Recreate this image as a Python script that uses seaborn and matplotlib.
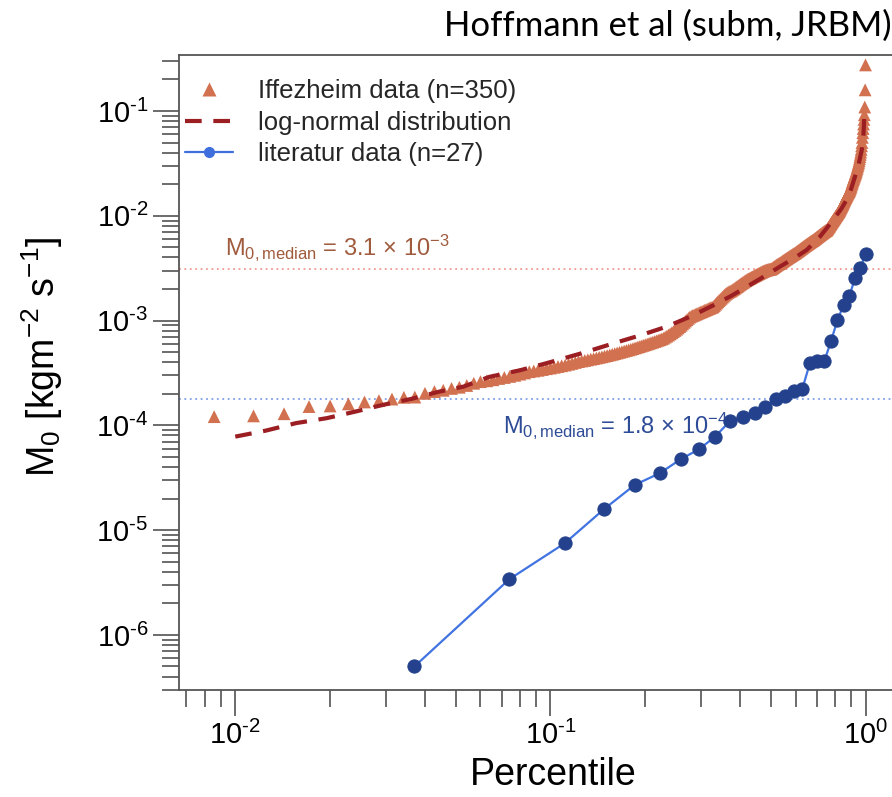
import numpy as np
import pandas as pd
import matplotlib
matplotlib.use("Agg")
import matplotlib.pyplot as plt
import seaborn as sns
from matplotlib.lines import Line2D
from matplotlib.ticker import LogLocator, NullFormatter, FuncFormatter, FixedLocator

# Iffezheim erosion rates M0, sorted ascending, in units of 1e-4 kg m^-2 s^-1
iffezheim_m0_e4 = [
    1.00, 1.15, 1.21, 1.23, 1.29, 1.51, 1.53, 1.60, 1.67, 1.72, 1.78, 1.85, 1.86, 2.02, 2.10,
    2.16, 2.25, 2.31, 2.40, 2.52, 2.61,
    2.66, 2.72, 2.80, 2.86, 2.93, 3.00, 3.08, 3.16, 3.25,
    3.30, 3.35, 3.41, 3.47, 3.52, 3.58, 3.64, 3.70, 3.76, 3.83, 3.90, 3.98, 4.06,
    4.11, 4.16, 4.22, 4.28, 4.33, 4.39, 4.45, 4.51, 4.57, 4.63, 4.70, 4.76, 4.83, 4.90, 4.97,
    5.04, 5.11, 5.18, 5.25,
    5.32, 5.40, 5.48, 5.56, 5.64, 5.72, 5.80, 5.88, 5.96, 6.05, 6.14, 6.22, 6.31, 6.40, 6.49,
    6.58, 6.68, 6.78,
    6.95, 7.10, 7.28, 7.45, 7.64, 7.84, 8.05, 8.26, 8.50, 8.75,
    9.00, 9.30, 9.60, 9.90, 10.2, 10.5, 10.8,
    11.0, 11.15, 11.3, 11.45, 11.6, 11.75, 11.9, 12.05, 12.2, 12.35, 12.5, 12.65, 12.8, 12.95,
    13.1, 13.25, 13.4, 13.55,
    13.9, 14.3, 14.7, 15.1, 15.5, 15.9, 16.3, 16.7, 17.1, 17.5, 17.9, 18.2, 18.5, 18.8, 19.0,
    19.2, 19.5, 19.8, 20.1, 20.4, 20.8, 21.1, 21.4, 21.8, 22.1, 22.5, 22.8, 23.1, 23.4, 23.8,
    24.1, 24.4,
    24.7, 25.0, 25.2, 25.5, 25.8, 26.1, 26.3, 26.6, 26.9, 27.1, 27.4, 27.7, 28.0, 28.2, 28.5,
    28.8, 29.0, 29.3, 29.6,
    29.8, 30.0, 30.2, 30.4, 30.5, 30.7, 30.8, 30.9, 31.0, 31.2,
    31.5, 31.9, 32.3, 32.7, 33.1, 33.5, 33.9, 34.3, 34.6, 34.9, 35.2,
    35.6, 36.0, 36.4, 36.8, 37.2, 37.6, 38.0, 38.4, 38.8, 39.2, 39.6, 40.0, 40.4, 40.8, 41.2,
    41.6, 42.0, 42.4, 42.8, 43.2, 43.6, 44.0, 44.4, 44.9, 45.4,
    45.8, 46.3, 46.8, 47.3, 47.8, 48.3, 48.8, 49.3, 49.8, 50.3, 50.8, 51.3, 51.8, 52.3, 52.8,
    53.3, 53.8, 54.3, 54.8, 55.3, 55.8, 56.3, 56.8, 57.3, 57.8, 58.2, 58.7,
    59.2, 59.8, 60.4, 61.0, 61.6, 62.2, 62.8, 63.4, 64.0, 64.6, 65.2, 65.8, 66.4, 67.0, 67.6,
    68.2, 68.8, 69.4, 70.0, 70.6, 71.2, 71.8, 72.4, 72.9, 73.3,
    74.5, 75.8, 77.1, 78.4, 79.8, 81.2, 82.6, 84.0, 85.4, 86.9, 88.4, 89.9, 91.4, 92.9, 94.4,
    96.0, 97.6, 99.2, 100.8, 102.4, 104.0, 105.7, 107.4, 109.2, 111.1, 113.0,
    115.5, 118.0, 120.5, 123.0, 125.5, 128.0, 131.0, 134.0, 137.0, 140.0, 143.0, 146.0, 149.0,
    152.0, 155.0, 158.0, 161.0, 164.0, 167.0, 170.0, 173.0, 176.0,
    181, 186, 191, 197, 203, 209, 215, 221, 227, 233, 239, 245, 251, 258, 266, 274,
    283, 292, 302, 312, 323, 335, 350, 367,
    385, 405, 430, 465,
    500, 560, 620, 680, 750, 830, 920,
    1090, 1590, 2750,
]

# Literature erosion rates M0 [kg m^-2 s^-1], sorted ascending
literature_m0 = [
    5.0e-7, 3.4e-6, 7.5e-6, 1.59e-5, 2.70e-5, 3.49e-5, 4.75e-5, 5.92e-5, 7.8e-5,
    1.09e-4, 1.21e-4, 1.32e-4, 1.51e-4, 1.80e-4, 1.91e-4, 2.14e-4, 2.21e-4,
    3.96e-4, 4.09e-4, 4.12e-4, 6.43e-4, 1.01e-3, 1.41e-3, 1.72e-3, 2.53e-3,
    3.20e-3, 4.29e-3,
]

# Fitted log-normal quantile curve
lognorm_percentile = [
    0.0100, 0.0125, 0.0156, 0.0195, 0.024, 0.0295, 0.036, 0.0445, 0.053, 0.064,
    0.080, 0.097, 0.125, 0.159, 0.195, 0.234, 0.28, 0.329, 0.375, 0.42, 0.475,
    0.535, 0.595, 0.651, 0.717, 0.79, 0.84, 0.871, 0.90, 0.926, 0.95, 0.973,
    0.985, 0.993,
]
lognorm_m0 = [
    7.8e-5, 8.9e-5, 1.05e-4, 1.17e-4, 1.35e-4, 1.57e-4, 1.78e-4, 2.10e-4, 2.34e-4, 2.9e-4,
    3.35e-4, 3.91e-4, 4.85e-4, 6.07e-4, 7.3e-4, 8.75e-4, 1.10e-3, 1.40e-3, 1.72e-3, 2.10e-3,
    2.62e-3, 3.27e-3, 3.95e-3, 4.72e-3, 6.32e-3, 9.12e-3, 1.18e-2, 1.42e-2, 1.80e-2,
    2.37e-2, 3.05e-2, 4.25e-2, 6.0e-2, 1.0e-1,
]

median_iffezheim = 3.1e-3
median_literature = 1.8e-4

x_decades = [1e-2, 1e-1, 1e0]
y_decades = [1e-6, 1e-5, 1e-4, 1e-3, 1e-2, 1e-1]

legend_labels = ["Iffezheim data (n=350)", "log-normal distribution", "literatur data (n=27)"]

ORANGE = "#D2714F"
DARKRED = "#9B1E23"
BLUE_LINE = "#4173E1"
NAVY = "#23418C"

sns.set_theme(style="ticks")
plt.rcParams["font.family"] = ["Liberation Sans", "DejaVu Sans"]
plt.rcParams["mathtext.fontset"] = "custom"
plt.rcParams["mathtext.rm"] = "Liberation Sans"
plt.rcParams["mathtext.it"] = "Liberation Sans:italic"
plt.rcParams["mathtext.bf"] = "Liberation Sans:bold"
plt.rcParams["mathtext.sf"] = "Liberation Sans"

n_iff = len(iffezheim_m0_e4)
iff = pd.DataFrame({
    "percentile": np.arange(1, n_iff + 1) / n_iff,
    "m0": np.array(iffezheim_m0_e4) * 1e-4,
})
n_lit = len(literature_m0)
lit = pd.DataFrame({
    "percentile": np.arange(1, n_lit + 1) / n_lit,
    "m0": literature_m0,
})
fit = pd.DataFrame({"percentile": lognorm_percentile, "m0": lognorm_m0})

fig = plt.figure(figsize=(8.92, 7.97), dpi=100)
ax = fig.add_axes([179 / 892, 107 / 797, 748 / 892, 635 / 797])
ax.set_xscale("log")
ax.set_yscale("log")

# median reference lines
ax.axhline(median_iffezheim, color="#F39A92", lw=1.3, ls=(0, (1, 2)), zorder=1)
ax.axhline(median_literature, color="#7F9EEB", lw=1.3, ls=(0, (1, 2)), zorder=1)

sns.scatterplot(data=iff, x="percentile", y="m0", marker="^", s=85, color=ORANGE,
                edgecolor="none", linewidth=0, ax=ax, legend=False, zorder=3)
sns.lineplot(data=fit, x="percentile", y="m0", color=DARKRED, lw=3, ls=(0, (4, 2.8)),
             sort=False, estimator=None, ax=ax, legend=False, zorder=4)
sns.lineplot(data=lit, x="percentile", y="m0", color=BLUE_LINE, lw=1.6, marker="o",
             markersize=9.5, markerfacecolor=NAVY, markeredgecolor=NAVY,
             sort=False, estimator=None, ax=ax, legend=False, zorder=5)

ax.set_xlim(0.00663, 1.567)
ax.set_ylim(2.98e-7, 0.342)


def decade_label(value, pos):
    exponent = int(round(np.log10(value)))
    if exponent < 0:
        return r"$\mathregular{10^{\text{-}%d}}$" % (-exponent)
    return r"$\mathregular{10^{%d}}$" % exponent


for axis, decades in ((ax.xaxis, x_decades), (ax.yaxis, y_decades)):
    axis.set_major_locator(FixedLocator(decades))
    axis.set_minor_locator(LogLocator(base=10, subs=np.arange(2, 10), numticks=40))
    axis.set_minor_formatter(NullFormatter())
    axis.set_major_formatter(FuncFormatter(decade_label))

ax.tick_params(which="major", length=19, width=1.1, color="#444444", labelsize=21,
               pad=3, direction="out", labelcolor="black")
ax.tick_params(which="minor", length=12, width=1.1, color="#444444", direction="out")

for side in ("left", "bottom", "top"):
    ax.spines[side].set_color("#555555")
    ax.spines[side].set_linewidth(1.3)
ax.spines["right"].set_visible(False)

ax.set_xlabel("Percentile", fontsize=27, color="black")
ax.set_ylabel(r"M$_0$ [kgm$^{-2}$ s$^{-1}$]", fontsize=27, color="black")
ax.xaxis.set_label_coords(0.5, -0.1055)
ax.yaxis.set_label_coords(-0.152, 0.525)

# median annotations
ax.text(0.00926, 4.23e-3, r"M$_{0,\mathrm{median}}$ = 3.1 $\times$ 10$^{-3}$",
        color="#A05A3C", fontsize=17, ha="left", va="baseline", zorder=6)
ax.text(0.0707, 8.45e-5, r"M$_{0,\mathrm{median}}$ = 1.8 $\times$ 10$^{-4}$",
        color="#2D4B96", fontsize=17, ha="left", va="baseline", zorder=2)

handles = [
    Line2D([], [], ls="none", marker="^", ms=10, color=ORANGE, mec="none"),
    Line2D([], [], color=DARKRED, lw=3, ls=(0, (4, 2.8))),
    Line2D([], [], color="#3F6FDC", lw=1.6, marker="o", ms=7),
]
ax.legend(handles=handles, labels=legend_labels, loc="upper left",
          bbox_to_anchor=(185 / 892, (797 - 79) / 797), bbox_transform=fig.transFigure,
          frameon=False, fontsize=18.5, handlelength=1.85, handletextpad=1.0,
          labelspacing=0.3, borderpad=0, borderaxespad=0)

fig.text(444 / 892, (797 - 36) / 797, "Hoffmann et al (subm, JRBM)", fontsize=25,
         family=["Lato", "DejaVu Sans"], ha="left", va="baseline", color="black")

fig.savefig("out.png", dpi=100)
